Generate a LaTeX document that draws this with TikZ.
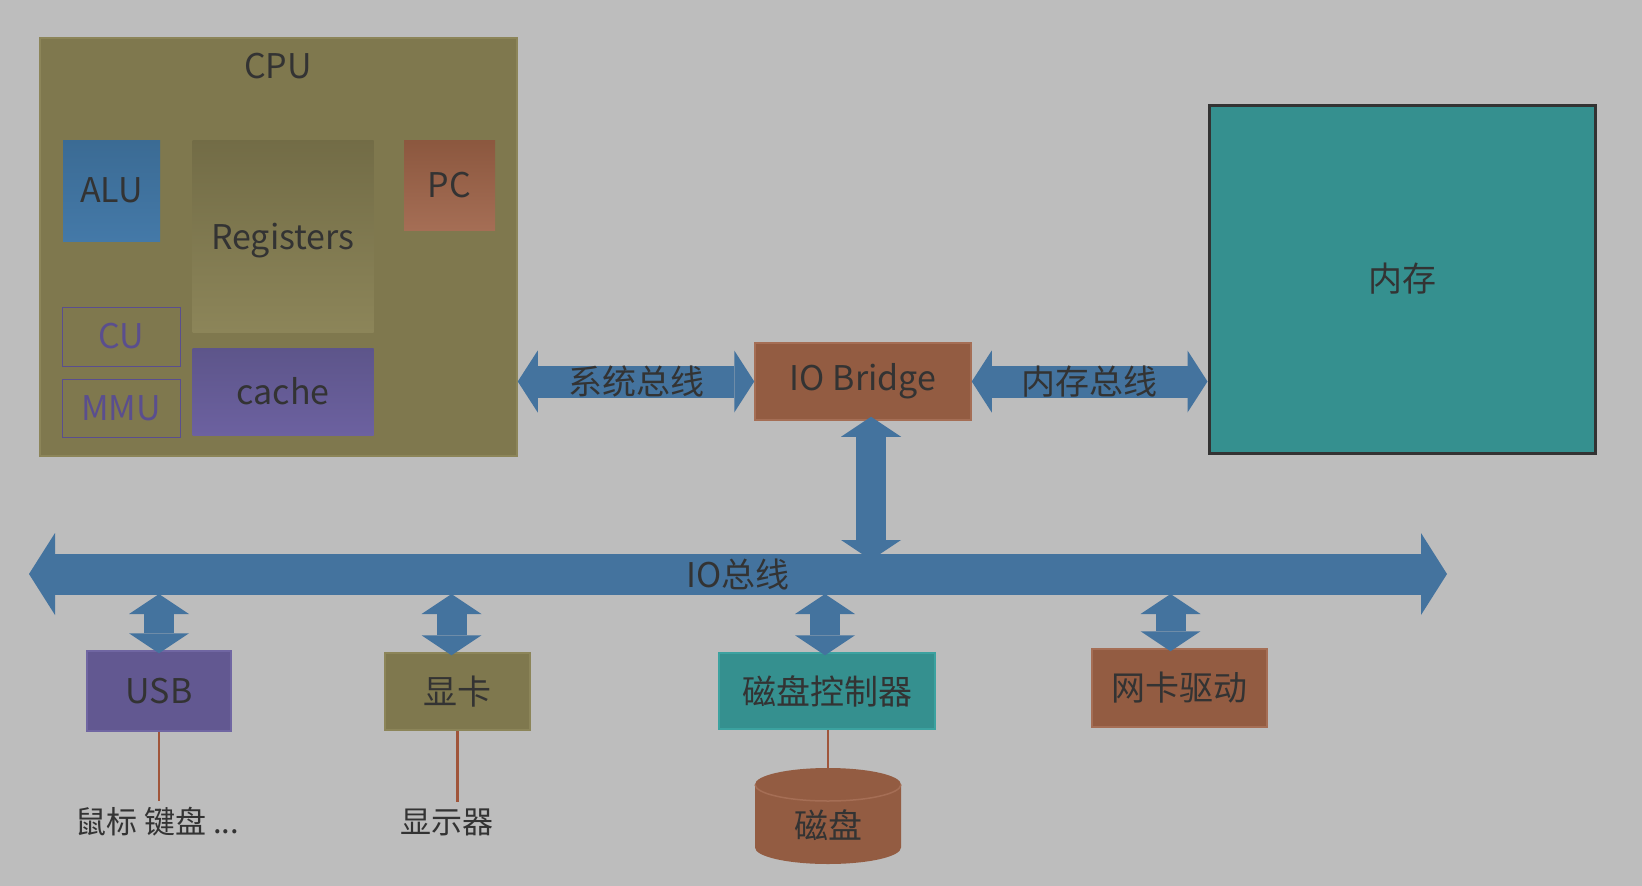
\documentclass[tikz,border=0pt]{standalone}
\usepackage{fontspec}
\setmainfont{Noto Sans CJK SC}
\usetikzlibrary{arrows.meta}
\definecolor{bgc}{HTML}{BDBDBD}
\definecolor{txtc}{HTML}{333333}
\definecolor{olivec}{HTML}{7F784E}
\definecolor{olivee}{HTML}{8C8559}
\definecolor{busc}{HTML}{44739E}
\definecolor{rustc}{HTML}{935C42}
\definecolor{ruste}{HTML}{A56E55}
\definecolor{tealc}{HTML}{35908F}
\definecolor{teale}{HTML}{3CA2A0}
\definecolor{purplec}{HTML}{625891}
\definecolor{purplee}{HTML}{7066A2}
\definecolor{mmuc}{HTML}{5A4E8E}
\definecolor{wirec}{HTML}{A0553A}
\definecolor{alutop}{HTML}{3B6B94}
\definecolor{alubot}{HTML}{4479A8}
\definecolor{cachetop}{HTML}{5D558A}
\definecolor{cachebot}{HTML}{6C61A0}
\begin{document}
\begin{tikzpicture}[x=1pt,y=-1pt,
		every node/.style={font=\fontsize{34}{40}\selectfont, text=txtc, inner sep=0pt},
		block/.style={rectangle, line width=1.5pt},
		sysbus/.style={draw=busc, line width=32pt, {Triangle[length=20pt,width=62pt,line width=0pt]}-{Triangle[length=20pt,width=62pt,line width=0pt]}},
		iobusline/.style={draw=busc, line width=41pt, {Triangle[length=26pt,width=82pt,line width=0pt]}-{Triangle[length=26pt,width=82pt,line width=0pt]}},
		devbus/.style={draw=busc, line width=30pt, {Triangle[length=20pt,width=60pt,line width=0pt]}-{Triangle[length=20pt,width=60pt,line width=0pt]}},
		wire/.style={draw=wirec, line width=2.5pt}]
	\fill[bgc] (0,0) rectangle (1642,886);
	\useasboundingbox (0,0) rectangle (1642,886);
	% cpu
	\node[block, fill=olivec, draw=olivee, minimum width=477pt, minimum height=418pt] (cpu) at (278.5,247) {};
	\node (cputitle) at (278,66) {CPU};
	\node[block, top color=alutop, bottom color=alubot, minimum width=97pt, minimum height=101pt] (alu) at (111.5,190.5) {ALU};
	\node[block, top color=olivec!90!black, bottom color=olivee, minimum width=181pt, minimum height=192pt, text height=26pt, text depth=0pt] (reg) at (283,236) {Registers};
	\node[block, top color=rustc!95!black, bottom color=ruste, minimum width=91pt, minimum height=90pt] (pc) at (449.5,185) {PC};
	\node[block, draw=mmuc, line width=1pt, text=mmuc, minimum width=118pt, minimum height=59pt] (cu) at (121,336.5) {CU};
	\node[block, draw=mmuc, line width=1pt, text=mmuc, minimum width=118pt, minimum height=58pt] (mmu) at (121,408) {MMU};
	\node[block, top color=cachetop, bottom color=cachebot, minimum width=181pt, minimum height=87pt] (cache) at (283,391.5) {cache};
	% bridge + memory
	\node[block, fill=rustc, draw=ruste, minimum width=216pt, minimum height=77pt] (bridge) at (863,381.5) {IO Bridge};
	\node[block, fill=tealc, draw=txtc, line width=3pt, minimum width=386pt, minimum height=348pt] (mem) at (1402,279) {内存};
	% devices
	\node[block, fill=purplec, draw=purplee, minimum width=144pt, minimum height=80pt] (usb) at (159,691) {USB};
	\node[block, fill=olivec, draw=olivee, minimum width=145pt, minimum height=77pt] (gpu) at (457.5,691.5) {显卡};
	\node[block, fill=tealc, draw=teale, minimum width=216pt, minimum height=76pt] (dctl) at (827,691) {磁盘控制器};
	\node[block, fill=rustc, draw=ruste, minimum width=175pt, minimum height=78pt] (nic) at (1179.5,688) {网卡驱动};
	\node[font=\fontsize{31}{36}\selectfont] (periph) at (157,822) {鼠标 键盘 ...};
	\node[font=\fontsize{31}{36}\selectfont] (screen) at (447,822) {显示器};
	% disk
	\coordinate (disktop) at (828,768);
	\fill[rustc] (755,784.5) -- (755,847.5) arc[start angle=180,end angle=360,x radius=73pt,y radius=16.5pt]
		-- (901,784.5) arc[start angle=0,end angle=180,x radius=73pt,y radius=16.5pt] -- cycle;
	\draw[ruste, line width=1.5pt] (755,784.5) arc[start angle=180,end angle=360,x radius=73pt,y radius=16.5pt];
	\node (disk) at (828,825) {磁盘};
	% wires
	\draw[wire] (usb.south) -- ([yshift=6pt]usb.south |- periph.north);
	\draw[wire] (gpu.south) -- ([yshift=6pt]gpu.south |- screen.north);
	\draw[wire] (dctl.south -| disktop) -- (disktop);
	% buses
	\coordinate (iol) at (29,574);
	\coordinate (ior) at (1447,574);
	\coordinate (iobot) at (0,594);
	\coordinate (brbot) at (871,560);
	\draw[sysbus] (cpu.east |- bridge.west) -- node{系统总线} (bridge.west);
	\draw[sysbus] (bridge.east) -- node{内存总线} (mem.west |- bridge.east);
	\draw[iobusline] (iol) -- node{IO总线} (ior);
	\draw[devbus] ([yshift=4pt]brbot |- bridge.south) -- (brbot);
	\foreach \n/\dx in {usb/0,gpu/-6,dctl/-2,nic/-9}{
		\path ([xshift=\dx pt,yshift=-3pt]\n.north) coordinate (\n top);
		\draw[devbus] (\n top |- iobot) -- (\n top);}
\end{tikzpicture}
\end{document}
